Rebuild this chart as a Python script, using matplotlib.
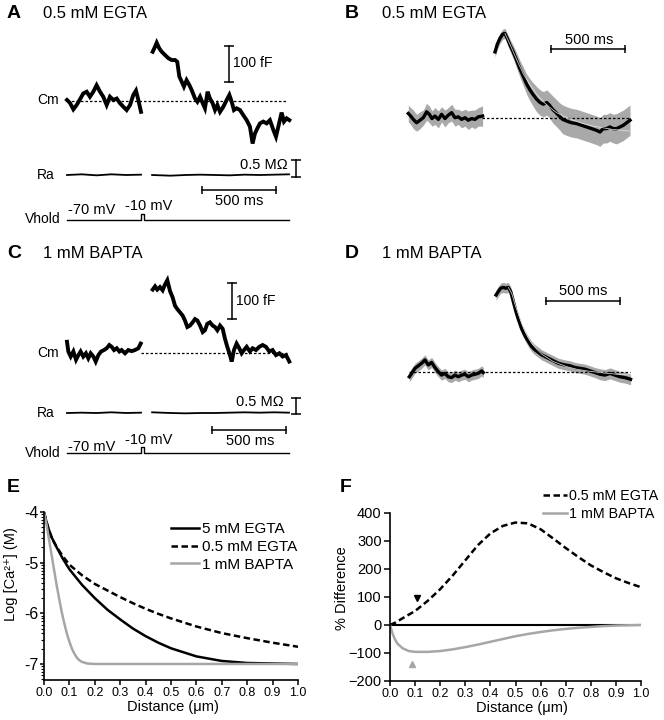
import matplotlib
matplotlib.use('Agg')
import matplotlib.pyplot as plt
import numpy as np

plt.rcParams['font.family'] = ['Liberation Sans', 'DejaVu Sans']

W, H = 664, 720
PX_MS = 0.148  # pixels per ms on the trace panels

# ---- panel A: 0.5 mM EGTA, Cm (fF) ----
a_t1 = [0, 20, 43, 65, 88, 110, 133, 155, 178, 200, 223, 245, 268, 290, 313, 336, 358, 381, 403, 426, 448, 466, 482, 500]
a_cm1 = [2, -6, -24, -12, 4, 20, 25, 11, 25, 43, 25, 11, -12, 11, 2, 6, -7, -17, -26, -12, 16, 28, 2, -31]
a_t2 = [579, 595, 606, 624, 640, 662, 685, 707, 730, 745, 759, 775, 790, 808, 826, 842, 865, 881, 899, 917, 932, 950, 966,
        984, 1000, 1016, 1034, 1056, 1079, 1097, 1113, 1128, 1146, 1169, 1191, 1214, 1236, 1254, 1270, 1286, 1304, 1326,
        1349, 1371, 1394, 1412, 1428, 1450, 1466, 1484, 1502]
a_cm2 = [136, 150, 161, 145, 136, 127, 118, 113, 113, 108, 67, 53, 39, 57, 44, 30, 6, -3, 11, -7, -21, 25, 6, -7, -26,
         -12, -31, -17, 2, 16, -3, -26, -21, -26, -40, -54, -72, -119, -91, -77, -63, -58, -63, -54, -81, -100, -72, -33,
         -58, -49, -54]
a_ra_t1 = [0, 100, 200, 300, 400, 500]
a_ra1 = [0.0, 0.02, -0.01, 0.02, 0.0, 0.01]
a_ra_t2 = [575, 700, 800, 900, 1000, 1100, 1200, 1300, 1400, 1500]
a_ra2 = [0.0, -0.02, 0.0, 0.01, 0.0, -0.01, 0.01, 0.0, 0.01, 0.02]

# ---- panel C: 1 mM BAPTA, Cm (fF) ----
c_t1 = [0, 9, 25, 43, 61, 77, 92, 110, 128, 144, 160, 178, 194, 212, 230, 250, 268, 286, 302, 318, 336, 354, 369, 392,
        414, 437, 459, 482, 498]
c_cm1 = [32, 5, -9, 5, -18, -5, 5, -9, 0, -14, 0, -9, -23, -5, 5, 9, 14, 23, 18, 9, 14, 5, 9, 0, 9, 6, 9, 14, 27]
c_t2 = [579, 595, 610, 628, 646, 662, 678, 696, 714, 730, 745, 763, 781, 797, 813, 831, 849, 865, 881, 899, 917, 932, 948,
        966, 984, 1000, 1016, 1034, 1052, 1067, 1083, 1101, 1113, 1128, 1146, 1164, 1180, 1196, 1214, 1236, 1254, 1277,
        1299, 1322, 1344, 1367, 1389, 1412, 1435, 1457, 1480, 1502]
c_cm2 = [177, 186, 177, 184, 175, 191, 203, 173, 155, 132, 123, 114, 105, 91, 73, 77, 86, 95, 91, 77, 59, 64, 82, 86, 77,
         73, 64, 77, 68, 41, 18, -5, -23, 9, 27, 14, 0, 9, 18, 5, 14, 9, 18, 23, 18, 5, 9, -5, 0, -9, -5, -23]
c_ra_t1 = [0, 100, 200, 300, 400, 500]
c_ra1 = [0.0, 0.01, 0.0, 0.02, 0.0, 0.01]
c_ra_t2 = [575, 700, 800, 900, 1000, 1100, 1200, 1300, 1400, 1500]
c_ra2 = [0.02, 0.0, -0.01, 0.0, 0.0, 0.01, 0.02, 0.01, 0.02, 0.01]

vh_t = [0, 500, 500, 522, 522, 1500]
vh_mv = [-70, -70, -10, -10, -70, -70]

# ---- panel B: 0.5 mM EGTA, normalised mean +/- SEM ----
b_t1 = [0, 16, 34, 56, 79, 101, 124, 142, 160, 180, 203, 225, 248, 270, 293, 315, 338, 360, 383, 405, 428, 450, 473, 502]
b_m1 = [0.05, 0.02, -0.02, -0.06, -0.03, 0, 0.07, 0.04, -0.01, 0.02, -0.02, 0.04, -0.01, 0.03, 0.06, 0, 0.01, -0.02, 0,
        -0.03, -0.01, -0.02, 0.01, 0.02]
b_s1 = [0.10, 0.10, 0.11, 0.10, 0.10, 0.09, 0.10, 0.10, 0.09, 0.10, 0.10, 0.09, 0.10, 0.09, 0.10, 0.10, 0.09, 0.10, 0.10,
        0.11, 0.10, 0.11, 0.11, 0.12]
b_t2 = [586, 601, 619, 637, 653, 669, 687, 709, 732, 754, 777, 799, 822, 845, 867, 890, 912, 935, 953, 975, 998, 1020,
        1043, 1070, 1103, 1137, 1171, 1205, 1239, 1272, 1295, 1317, 1340, 1362, 1385, 1408, 1430, 1453, 1475, 1498]
b_m2 = [0.78, 0.87, 0.94, 0.99, 1.0, 0.94, 0.86, 0.78, 0.68, 0.58, 0.49, 0.40, 0.33, 0.27, 0.22, 0.18, 0.16, 0.18, 0.15,
        0.10, 0.06, 0.02, -0.02, -0.04, -0.06, -0.07, -0.09, -0.11, -0.13, -0.15, -0.17, -0.13, -0.13, -0.11, -0.13,
        -0.13, -0.11, -0.09, -0.06, -0.03]
b_s2 = [0.06, 0.06, 0.06, 0.06, 0.06, 0.06, 0.07, 0.08, 0.09, 0.10, 0.11, 0.12, 0.13, 0.14, 0.15, 0.15, 0.15, 0.15, 0.15,
        0.16, 0.16, 0.16, 0.17, 0.17, 0.17, 0.17, 0.17, 0.17, 0.17, 0.17, 0.17, 0.17, 0.17, 0.17, 0.17, 0.18, 0.18, 0.18,
        0.18, 0.18]
b_fit_t = [653, 687, 732, 777, 822, 867, 912, 957, 1002, 1047, 1115, 1182, 1250, 1317, 1385, 1453, 1498]
b_fit = [1.0, 0.87, 0.69, 0.52, 0.39, 0.28, 0.19, 0.12, 0.06, 0.02, -0.03, -0.07, -0.10, -0.12, -0.14, -0.15, -0.16]

# ---- panel D: 1 mM BAPTA, normalised mean +/- SEM ----
d_t1 = [0, 16, 38, 61, 83, 106, 128, 151, 173, 196, 218, 241, 263, 286, 309, 331, 354, 376, 399, 421, 444, 466, 489, 500]
d_m1 = [-0.06, -0.02, 0.04, 0.07, 0.10, 0.14, 0.08, 0.11, 0.05, 0, -0.04, -0.02, -0.06, -0.07, -0.04, -0.06, -0.04, -0.03,
        -0.06, -0.04, -0.03, -0.02, 0.01, -0.01]
d_s1 = [0.06] * 24
d_t2 = [586, 601, 617, 635, 653, 669, 685, 703, 721, 739, 759, 781, 804, 826, 849, 872, 894, 917, 939, 962, 984, 1007,
        1029, 1052, 1085, 1119, 1153, 1187, 1221, 1254, 1288, 1322, 1356, 1389, 1423, 1457, 1495]
d_m2 = [0.91, 0.95, 0.99, 1.0, 0.99, 1.0, 0.95, 0.83, 0.71, 0.61, 0.51, 0.43, 0.36, 0.30, 0.26, 0.23, 0.20, 0.18, 0.16,
        0.14, 0.12, 0.10, 0.09, 0.08, 0.07, 0.05, 0.04, 0.03, 0.01, -0.01, -0.03, -0.04, -0.02, -0.04, -0.06, -0.07, -0.09]
d_s2 = [0.06] * 30 + [0.065] * 7
d_fit_t = [669, 692, 714, 737, 759, 781, 804, 826, 860, 894, 928, 973, 1018, 1063, 1130, 1198, 1288, 1400, 1495]
d_fit = [1.0, 0.93, 0.80, 0.68, 0.57, 0.48, 0.40, 0.34, 0.27, 0.21, 0.17, 0.12, 0.09, 0.06, 0.03, 0.01, -0.01, -0.03, -0.04]

# ---- panel E: log [Ca2+] vs distance ----
e_d = [0, 0.01, 0.02, 0.03, 0.04, 0.05, 0.075, 0.1, 0.15, 0.2, 0.25, 0.3, 0.35, 0.4, 0.45, 0.5, 0.6, 0.7, 0.8, 0.9, 1.0]
egta5 = [-4.0, -4.2, -4.36, -4.5, -4.6, -4.7, -4.93, -5.13, -5.44, -5.70, -5.93, -6.12, -6.30, -6.45, -6.58, -6.69,
         -6.85, -6.94, -6.98, -6.99, -7.0]
egta05 = [-4.0, -4.2, -4.37, -4.5, -4.6, -4.69, -4.88, -5.04, -5.25, -5.42, -5.55, -5.68, -5.80, -5.91, -6.01, -6.10,
          -6.26, -6.39, -6.49, -6.58, -6.66]
bapta_d = [0, 0.01, 0.02, 0.03, 0.04, 0.05, 0.06, 0.07, 0.08, 0.09, 0.1, 0.11, 0.12, 0.13, 0.14, 0.15, 0.17, 0.2, 0.3, 1.0]
bapta1 = [-4.0, -4.25, -4.55, -4.85, -5.15, -5.45, -5.72, -5.98, -6.2, -6.4, -6.56, -6.7, -6.8, -6.88, -6.93, -6.96,
          -6.99, -7.0, -7.0, -7.0]

# ---- panel F: % difference ----
f_d = [0, 0.02, 0.05, 0.1, 0.15, 0.2, 0.25, 0.3, 0.35, 0.4, 0.45, 0.5, 0.55, 0.6, 0.65, 0.7, 0.75, 0.8, 0.85, 0.9, 0.95, 1.0]
f_egta = [0, 8, 24, 50, 86, 128, 177, 231, 285, 327, 354, 366, 363, 342, 309, 275, 243, 213, 189, 167, 150, 135]
f_d2 = [0, 0.01, 0.02, 0.03, 0.05, 0.075, 0.1, 0.15, 0.2, 0.25, 0.3, 0.35, 0.4, 0.45, 0.5, 0.55, 0.6, 0.65, 0.7, 0.75, 0.8,
        0.85, 0.9, 1.0]
f_bapta = [0, -30, -52, -67, -83, -93, -96, -96, -93, -87, -79, -70, -60, -50, -40, -32, -25, -19, -14, -10, -7, -4, -2, 0]
mark_egta = (0.109, 98)
mark_bapta = (0.086, -138)

GRAY = '#a6a6a6'
BAND = '#a9a9a9'

fig = plt.figure(figsize=(W / 100, H / 100), dpi=100)


def px_axes(x0, y0, x1, y1):
    return fig.add_axes([x0 / W, 1 - y1 / H, (x1 - x0) / W, (y1 - y0) / H])


def trace_axes(x0, y0, x1, y1, t0_px, base_px, ppu, base_val=0):
    ax = px_axes(x0, y0, x1, y1)
    ax.set_xlim((x0 - t0_px) / PX_MS, (x1 - t0_px) / PX_MS)
    ax.set_ylim(base_val - (y1 - base_px) / ppu, base_val + (base_px - y0) / ppu)
    ax.axis('off')
    return ax


def ftext(x, y, s, **kw):
    kw.setdefault('va', 'center')
    fig.text(x / W, 1 - y / H, s, **kw)


def hbar(ax, t0, t1, y):
    ax.plot([t0, t1], [y, y], color='k', lw=1.1)
    ax.plot([t0, t1], [y, y], ls='none', marker='|', ms=6, mew=1.1, color='k')


def vbar(ax, t, y0, y1):
    ax.plot([t, t], [y0, y1], color='k', lw=1.1)
    ax.plot([t, t], [y0, y1], ls='none', marker='_', ms=7, mew=1.1, color='k')


dotted = (0, (2, 1.6))

# ---------- A and C ----------
for (top, base_cm, base_ra, base_vh, t1, cm1, t2, cm2, rt1, r1, rt2, r2, fF_bar, ra_bar, ms_bar, dot_from) in [
        (25, 100.7, 175, 220, a_t1, a_cm1, a_t2, a_cm2, a_ra_t1, a_ra1, a_ra_t2, a_ra2, (1095, 52, 152),
         (1547, -0.06, 0.44), (912, 1412, -0.44), 0),
        (265, 353.3, 413, 453, c_t1, c_cm1, c_t2, c_cm2, c_ra_t1, c_ra1, c_ra_t2, c_ra2, (1115, 95, 195),
         (1547, -0.03, 0.44), (980, 1480, -0.5), 500)]:
    ax = trace_axes(60, top, 305, top + 140, 67, base_cm, 0.36)
    ax.plot([dot_from, 1486], [0, 0], color='k', lw=0.9, ls=dotted)
    ax.plot(t1, cm1, color='k', lw=2.8, solid_joinstyle='miter')
    ax.plot(t2, cm2, color='k', lw=2.8, solid_joinstyle='miter')
    vbar(ax, fF_bar[0], fF_bar[1], fF_bar[2])

    axr = trace_axes(60, base_ra - 25, 305, base_ra + 25, 67, base_ra, 34)
    axr.plot(rt1, r1, color='k', lw=1.3)
    axr.plot(rt2, r2, color='k', lw=1.3)
    vbar(axr, ra_bar[0], ra_bar[1], ra_bar[2])
    hbar(axr, ms_bar[0], ms_bar[1], ms_bar[2])

    axv = trace_axes(60, base_vh - 20, 305, base_vh + 10, 67, base_vh, 0.1, base_val=-70)
    axv.plot(vh_t, vh_mv, color='k', lw=1.0)

# A labels
ftext(7, 13, 'A', fontsize=14, fontweight='bold')
ftext(43, 13, '0.5 mM EGTA', fontsize=12)
ftext(59, 100, 'Cm', fontsize=10, ha='right')
ftext(55, 175, 'Ra', fontsize=10, ha='right')
ftext(61, 219, 'Vhold', fontsize=10, ha='right')
ftext(233, 63, '100 fF', fontsize=10)
ftext(288, 165, '0.5 M\u03a9', fontsize=10.5, ha='right')
ftext(239, 201, '500 ms', fontsize=10.5, ha='center')
ftext(68, 210, '-70 mV', fontsize=10.5)
ftext(125, 206, '-10 mV', fontsize=10.5)

# C labels
ftext(7, 253, 'C', fontsize=14, fontweight='bold')
ftext(43, 253, '1 mM BAPTA', fontsize=12)
ftext(59, 353, 'Cm', fontsize=10, ha='right')
ftext(55, 413, 'Ra', fontsize=10, ha='right')
ftext(61, 453, 'Vhold', fontsize=10, ha='right')
ftext(236, 301, '100 fF', fontsize=10)
ftext(284, 402, '0.5 M\u03a9', fontsize=10.5, ha='right')
ftext(250, 441, '500 ms', fontsize=10.5, ha='center')
ftext(68, 447, '-70 mV', fontsize=10.5)
ftext(125, 440, '-10 mV', fontsize=10.5)

# ---------- B and D ----------
for (top, bot, t0px, base, t1, m1, s1, t2, m2, s2, ft, fv, bar, dot_from) in [
        (20, 150, 408.3, 117.7, b_t1, b_m1, b_s1, b_t2, b_m2, b_s2, b_fit_t, b_fit, (964, 1464, 0.815), 500),
        (275, 400, 409.3, 371.7, d_t1, d_m1, d_s1, d_t2, d_m2, d_s2, d_fit_t, d_fit, (924, 1424, 0.84), 0)]:
    ax = trace_axes(400, top, 640, bot, t0px, base, 84.3)
    for t, m, s in [(t1, m1, s1), (t2, m2, s2)]:
        m = np.array(m)
        s = np.array(s)
        ax.fill_between(t, m - s, m + s, color=BAND, lw=0)
    ax.plot([dot_from, 1490], [0, 0], color='k', lw=0.9, ls=dotted)
    ax.plot(t1, m1, color='k', lw=2.4)
    ax.plot(t2, m2, color='k', lw=2.4)
    ax.plot(ft, fv, color='#e6e6e6', lw=0.5)
    hbar(ax, bar[0], bar[1], bar[2])

ftext(345, 13, 'B', fontsize=14, fontweight='bold')
ftext(382, 13, '0.5 mM EGTA', fontsize=12)
ftext(589, 40, '500 ms', fontsize=10.5, ha='center')
ftext(345, 253, 'D', fontsize=14, fontweight='bold')
ftext(382, 253, '1 mM BAPTA', fontsize=12)
ftext(583, 291, '500 ms', fontsize=10.5, ha='center')


def style_axes(ax):
    for side in ['top', 'right']:
        ax.spines[side].set_visible(False)
    for side in ['left', 'bottom']:
        ax.spines[side].set_linewidth(1.2)
    ax.set_xlim(0, 1.0)
    ax.set_xticks(np.arange(0, 1.01, 0.1))
    ax.set_xticklabels(['%.1f' % v for v in np.arange(0, 1.01, 0.1)])
    ax.tick_params(axis='x', direction='out', length=3.5, width=1.1, labelsize=9, pad=1.5)


# ---------- E ----------
axE = px_axes(44, 512, 298, 680)
style_axes(axE)
axE.set_ylim(-7.316, -4)
axE.plot(e_d, egta5, color='k', lw=1.8, label='5 mM EGTA')
axE.plot(e_d, egta05, color='k', lw=1.8, dashes=(2.6, 1.4), label='0.5 mM EGTA')
axE.plot(bapta_d, bapta1, color=GRAY, lw=1.8, label='1 mM BAPTA')
axE.set_yticks([-7, -6, -5, -4])
axE.set_yticklabels(['-7', '-6', '-5', '-4'])
minor = [np.log10(k) + n for n in range(-8, -4) for k in range(2, 10)]
axE.set_yticks([v for v in minor if -7.316 <= v <= -4], minor=True)
axE.tick_params(axis='y', direction='out', length=3, width=1.1, labelsize=11.5, pad=1)
axE.tick_params(axis='y', which='minor', direction='out', length=2, width=0.8)
axE.legend(frameon=False, loc='upper left', bbox_to_anchor=(0.5, 0.94), fontsize=11, handlelength=1.8,
           handletextpad=0.25, labelspacing=0.25, borderaxespad=0, borderpad=0)
ftext(173, 707, 'Distance (\u03bcm)', fontsize=10.5, ha='center')
ftext(11, 574, 'Log [Ca\u00b2\u207a] (M)', fontsize=10.5, ha='center', rotation=90)
ftext(7, 488, 'E', fontsize=14, fontweight='bold')

# ---------- F ----------
axF = px_axes(390, 513, 641, 681)
style_axes(axF)
axF.set_ylim(-200, 400)
axF.set_yticks(np.arange(-200, 401, 100))
axF.tick_params(axis='y', direction='out', length=4, width=1.1, labelsize=10.5, pad=2)
axF.plot([0, 1], [0, 0], color='k', lw=1.5)
axF.plot(f_d, f_egta, color='k', lw=1.8, dashes=(2.6, 1.4), label='0.5 mM EGTA')
axF.plot(f_d2, f_bapta, color=GRAY, lw=1.8, label='1 mM BAPTA')
axF.plot(*mark_egta, marker='v', color='k', ms=5, ls='none')
axF.plot(*mark_bapta, marker='^', color=GRAY, ms=5, ls='none')
axF.legend(frameon=False, loc='upper left', bbox_to_anchor=(0.61, 1.14), fontsize=10.3, handlelength=1.7,
           handletextpad=0.1, labelspacing=0.25, borderaxespad=0, borderpad=0)
ftext(522, 708, 'Distance (\u03bcm)', fontsize=10.5, ha='center')
ftext(342, 588, '% Difference', fontsize=10.5, ha='center', rotation=90)
ftext(340, 487, 'F', fontsize=14, fontweight='bold')

fig.savefig('out.png', dpi=100)
